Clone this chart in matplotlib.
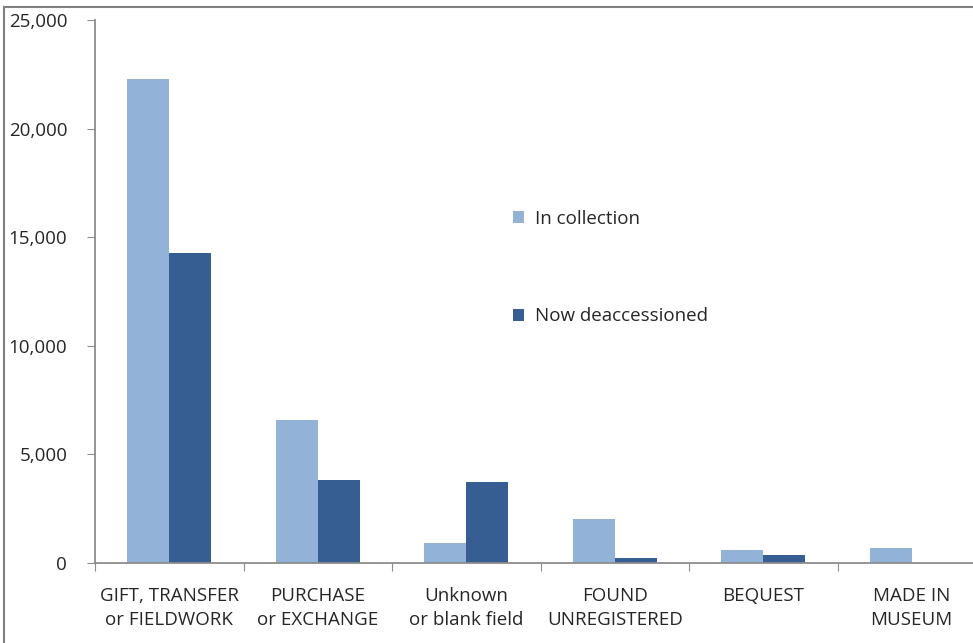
import matplotlib
matplotlib.use("Agg")
import matplotlib.pyplot as plt
from matplotlib.lines import Line2D
from matplotlib.ticker import FuncFormatter, FixedLocator
import numpy as np

plt.rcParams['font.family'] = ['Open Sans', 'DejaVu Sans']

categories = ["GIFT, TRANSFER\nor FIELDWORK", "PURCHASE\nor EXCHANGE", "Unknown\nor blank field",
              "FOUND\nUNREGISTERED", "BEQUEST", "MADE IN\nMUSEUM"]
in_collection = [22300, 6580, 900, 2010, 590, 680]
deaccessioned = [14250, 3820, 3710, 210, 370, 0]
series_names = ["In collection", "Now deaccessioned"]
y_ticks = [0, 5000, 10000, 15000, 20000, 25000]

W, H = 973, 643
fig = plt.figure(figsize=(W / 100, H / 100), dpi=100)
left, right, bottom, top = 95, 986, 563, 20
ax = fig.add_axes([left / W, 1 - bottom / H, (right - left) / W, (bottom - top) / H])

light = "#93B2D8"
dark = "#365E92"
gray = "#8C8C8C"
fs = 13.5

x = np.arange(len(categories))
bw = 0.283
ax.bar(x - bw / 2, in_collection, width=bw, color=light, label=series_names[0])
ax.bar(x + bw / 2, deaccessioned, width=bw, color=dark, label=series_names[1])

ax.set_xlim(-0.5, len(categories) - 0.5)
ax.set_ylim(0, 25000)
ax.set_yticks(y_ticks)
ax.yaxis.set_major_formatter(FuncFormatter(lambda v, p: f"{int(v):,}"))

ax.xaxis.set_major_locator(FixedLocator(np.arange(len(categories) + 1) - 0.5))
ax.xaxis.set_minor_locator(FixedLocator(x))
ax.set_xticklabels([])
ax.set_xticklabels(categories, minor=True)
ax.tick_params(axis='x', which='major', length=6, color=gray, direction='out')
ax.tick_params(axis='x', which='minor', length=0, pad=17, labelsize=fs, colors='#262626')
for t in ax.get_xticklabels(minor=True):
    t.set_linespacing(1.45)
    t.set_verticalalignment('top')
ax.tick_params(axis='y', length=6, color=gray, labelsize=fs, labelcolor='#262626', pad=14)

for s in ['top', 'right']:
    ax.spines[s].set_visible(False)
for s in ['left', 'bottom']:
    ax.spines[s].set_color(gray)
    ax.spines[s].set_linewidth(1.3)

leg = ax.legend(loc='upper left', bbox_to_anchor=((505 - left) / (right - left), 1 - (202 - top) / (bottom - top)),
                frameon=False, fontsize=fs, labelspacing=4.25, handlelength=0.6, handleheight=0.6,
                handletextpad=0.6, borderaxespad=0)
for t in leg.get_texts():
    t.set_color('#262626')

# outer frame lines (top and left)
fig.add_artist(Line2D([4 / W, 1], [1 - 7 / H, 1 - 7 / H], transform=fig.transFigure, color='#808080', lw=1.5))
fig.add_artist(Line2D([4 / W, 4 / W], [0, 1 - 7 / H], transform=fig.transFigure, color='#808080', lw=1.5))

fig.savefig("out.png", dpi=100)
